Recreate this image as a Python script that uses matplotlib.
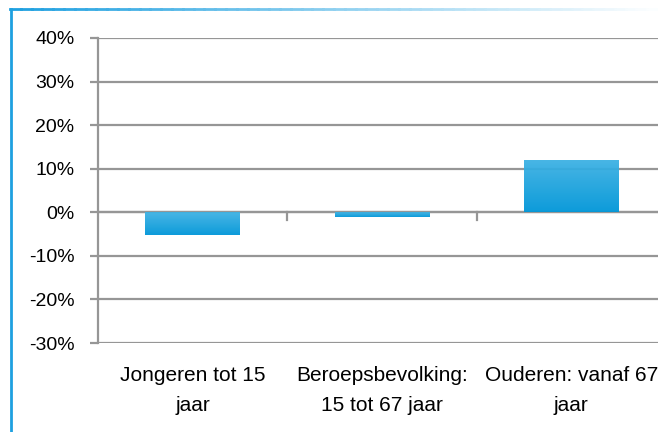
import numpy as np
import matplotlib.pyplot as plt
from matplotlib.lines import Line2D
from matplotlib.colors import LinearSegmentedColormap

categories = ["Jongeren tot 15\njaar", "Beroepsbevolking:\n15 tot 67 jaar", "Ouderen: vanaf 67\njaar"]
values = [-5.2, -1.0, 12.1]
yticks = [-30, -20, -10, 0, 10, 20, 30, 40]

plt.rcParams['font.family'] = ['Liberation Sans', 'DejaVu Sans']

fig = plt.figure(figsize=(6.58, 4.32), dpi=100)
ax = fig.add_axes([98 / 658, 89 / 432, 568 / 658, 305 / 432])

x = np.arange(len(values))
bars = ax.bar(x, values, width=0.5, color='none', zorder=3)

# vertical gradient inside each bar, lighter on top
grad_cmap = LinearSegmentedColormap.from_list("blu", ["#0096d8", "#3fb2e4"])
grad = np.linspace(0, 1, 100).reshape(-1, 1)
for b in bars:
    x0, y0 = b.get_x(), b.get_y()
    w, h = b.get_width(), b.get_height()
    y_lo, y_hi = min(y0, y0 + h), max(y0, y0 + h)
    im = ax.imshow(grad, cmap=grad_cmap, aspect='auto', origin='lower',
                   extent=[x0, x0 + w, y_lo, y_hi], zorder=3, alpha=0.95)
    im.set_clip_path(b)

ax.set_xlim(-0.5, 2.5)
ax.set_ylim(-30, 40)
ax.set_yticks(yticks)
ax.set_yticklabels([f"{t}%" for t in yticks])
ax.yaxis.grid(True, color='#969696', linewidth=1.6, zorder=1)
ax.set_axisbelow(True)

ax.set_xticks([])
ax.tick_params(axis='y', length=6, width=1.6, color='#969696', labelsize=14, pad=11)
# small ticks below the zero line between the groups
for xt in [0.5, 1.5]:
    ax.plot([xt, xt], [0, -1.8], color='#969696', linewidth=1.6, zorder=2, clip_on=False)

for s in ['top', 'right', 'bottom']:
    ax.spines[s].set_visible(False)
ax.spines['left'].set_color('#969696')
ax.spines['left'].set_linewidth(1.6)
ax.axhline(0, color='#969696', linewidth=1.6, zorder=2)

for i, lab in enumerate(categories):
    ax.text(i, -35.3, lab, ha='center', va='top', fontsize=15,
            linespacing=1.75, transform=ax.transData)

# frame of the picture: blue line on the left, fading line on top
fig.add_artist(Line2D([10.5 / 658, 10.5 / 658], [0, 1 - 9 / 432], color='#1ea0e0',
                      linewidth=2, transform=fig.transFigure))
fade = LinearSegmentedColormap.from_list("fade", ["#1ea0e0", "#ffffff"])
nseg = 60
xs = np.linspace(10 / 658, 1, nseg + 1)
for k in range(nseg):
    fig.add_artist(Line2D([xs[k], xs[k + 1]], [1 - 9 / 432, 1 - 9 / 432],
                          color=fade(k / nseg), linewidth=2, transform=fig.transFigure))

fig.savefig("out.png", dpi=100)
